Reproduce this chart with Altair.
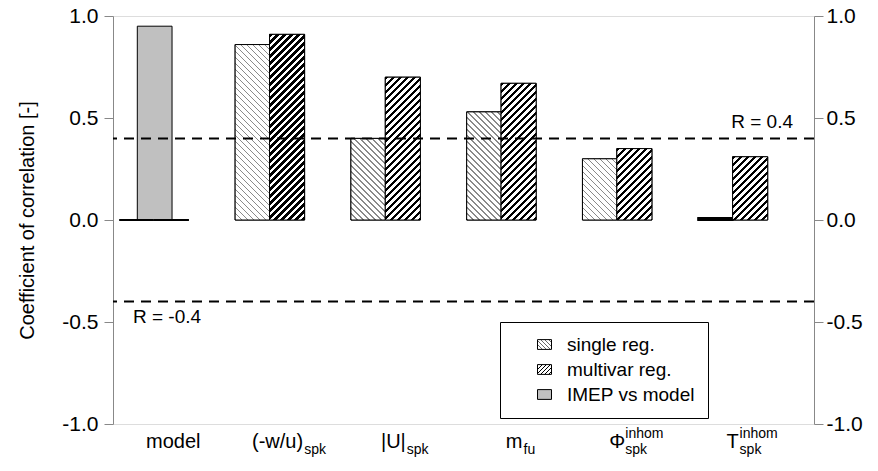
import json
import altair as alt
import pandas as pd

# ---------------- data ----------------
label_main = ["model", "(-w/u)", "|U|", "m", "Φ", "T"]
label_sub = ["", "spk", "spk", "fu", "spk", "spk"]
label_sup = ["", "", "", "", "inhom", "inhom"]
single_reg = [0.0, 0.86, 0.40, 0.53, 0.30, 0.01]
multivar_reg = [0.0, 0.91, 0.70, 0.67, 0.35, 0.31]
imep_vs_model = [0.95, None, None, None, None, None]
series_names = ["single reg.", "multivar reg.", "IMEP vs model"]
y_ticks = [-1.0, -0.5, 0.0, 0.5, 1.0]
r_levels = [0.4, -0.4]
r_labels = ["R = 0.4", "R = -0.4"]

# ---------------- layout ----------------
FONT = "Liberation Sans"
W, H = 701, 408
X_DOMAIN = [-0.02, 6.035]
UPP = (X_DOMAIN[1] - X_DOMAIN[0]) / W          # data units per pixel
PX_PER_CAT = 1.0 / UPP
PX_PER_Y = H / 2.0
SLOTS = {"single reg.": (0.035, 0.332), "multivar reg.": (0.332, 0.635),
         "IMEP vs model": (0.19, 0.49)}

xscale = alt.Scale(domain=X_DOMAIN, nice=False, zero=False)
yscale = alt.Scale(domain=[-1, 1], nice=False)


def stripes(w, h, period, frac, ink, paper, direction):
    L = w + h
    n2 = w * w + h * h
    if direction == "/":
        x1, y1, x2, y2 = 0, 0, w * L / n2, h * L / n2
    else:
        x1, y1, x2, y2 = 0, 1, w * L / n2, 1 - h * L / n2
    p = period / L
    stops = []
    k = 0
    while k * p < 1:
        s = k * p
        e1 = min(1.0, s + frac * p)
        e2 = min(1.0, s + p)
        stops += [(s, ink), (e1, ink), (e1, paper), (e2, paper)]
        k += 1
    return {"gradient": "linear", "x1": round(x1, 5), "y1": round(y1, 5),
            "x2": round(x2, 5), "y2": round(y2, 5),
            "stops": [{"offset": round(o, 5), "color": c} for o, c in stops]}


STYLE = {"single reg.": dict(period=6, frac=0.25, ink="#8a8a8a", paper="white", direction="\\"),
         "multivar reg.": dict(period=7, frac=0.45, ink="black", paper="white", direction="/")}

# ---------------- bar table ----------------
rows = []
for i in range(len(label_main)):
    for name, vals in zip(series_names, [single_reg, multivar_reg, imep_vs_model]):
        v = vals[i]
        if v is None:
            continue
        a, b = SLOTS[name]
        rows.append({"series": name, "x0": i + a, "x1": i + b, "value": v, "base": 0.0})
df = pd.DataFrame(rows)

# legend symbol fills
leg_w, leg_h = 14, 9.8
range_exprs = [
    alt.ExprRef(expr=json.dumps(stripes(leg_w, leg_h, 4, 0.25, "#6a6a6a", "white", "\\"))),
    alt.ExprRef(expr=json.dumps(stripes(leg_w, leg_h, 4, 0.45, "black", "white", "/"))),
    alt.ExprRef(expr="'#c0c0c0'"),
]

LABEL_EXPR = "datum.value < 0 ? '-' + format(-datum.value, '.1f') : format(datum.value, '.1f')"
left_axis = alt.Axis(values=y_ticks, labelExpr=LABEL_EXPR, orient="left", tickSize=9, labelPadding=6,
                     labelFontSize=21, titleFontSize=20, titleFontWeight="normal",
                     titlePadding=24, grid=False, title="Coefficient of correlation [-]")
right_axis = alt.Axis(values=y_ticks, labelExpr=LABEL_EXPR, orient="right", tickSize=9, labelPadding=3,
                      labelFontSize=21, grid=False, title=None)
x_axis = alt.Axis(values=list(range(0, 7)), labels=False, tickSize=10, grid=False, title=None)

base = alt.Chart(df).mark_bar(stroke="black", strokeWidth=1).encode(
    x=alt.X("x0:Q", scale=xscale, axis=x_axis),
    x2="x1:Q",
    y=alt.Y("value:Q", scale=yscale, axis=left_axis),
    y2="base:Q",
    color=alt.Color("series:N", scale=alt.Scale(domain=series_names, range=range_exprs),
                    legend=alt.Legend(title=None, orient="none", legendX=387, legendY=306,
                                      strokeColor="black", fillColor="white", padding=13,
                                      labelFontSize=19, labelFont=FONT, labelColor="black",
                                      symbolType="M-1,-0.7H1V0.7H-1Z", symbolSize=196,
                                      symbolStrokeColor="black", symbolStrokeWidth=1,
                                      labelOffset=13, symbolOffset=22, rowPadding=5)),
)

layers = [base]
for r in rows:
    if r["series"] == "IMEP vs model":
        continue
    w = (r["x1"] - r["x0"]) * PX_PER_CAT
    h = abs(r["value"]) * PX_PER_Y
    one = pd.DataFrame([r])
    enc = dict(x=alt.X("x0:Q", scale=xscale, axis=None), x2="x1:Q",
               y=alt.Y("value:Q", scale=yscale, axis=None), y2="base:Q")
    if h < 3:
        layers.append(alt.Chart(one).mark_bar(fill="white", stroke="black", strokeWidth=2).encode(**enc))
    else:
        g = stripes(w, h, **STYLE[r["series"]])
        layers.append(alt.Chart(one).mark_bar(fill=g, stroke="black", strokeWidth=1).encode(**enc))

# dashed reference lines + right axis
rdf = pd.DataFrame({"level": r_levels, "label": r_labels})
rules = alt.Chart(rdf).mark_rule(color="black", strokeWidth=2, strokeDash=[10, 7]).encode(
    y=alt.Y("level:Q", scale=yscale, axis=right_axis))
layers.append(rules)
layers.append(alt.Chart(rdf.iloc[[0]]).mark_text(align="right", baseline="alphabetic", dy=-10,
                                                 fontSize=19, font=FONT, color="black").encode(
    x=alt.value(680), y=alt.Y("level:Q", scale=yscale, axis=None), text="label:N"))
layers.append(alt.Chart(rdf.iloc[[1]]).mark_text(align="left", baseline="alphabetic", dy=21,
                                                 fontSize=19, font=FONT, color="black").encode(
    x=alt.value(20), y=alt.Y("level:Q", scale=yscale, axis=None), text="label:N"))

# category labels with sub/superscripts
CW = {'(': 0.333, ')': 0.333, '-': 0.333, 'w': 0.722, '/': 0.278, 'u': 0.556, 'm': 0.833,
      'o': 0.556, 'd': 0.556, 'e': 0.556, 'l': 0.222, '|': 0.26, 'U': 0.722, 'f': 0.278,
      'Φ': 0.76, 'T': 0.611, 's': 0.5, 'p': 0.556, 'k': 0.5, 'i': 0.222, 'n': 0.556, 'h': 0.556}
MAIN_FS, SCRIPT_FS = 20, 14


def tw(s, fs):
    return sum(CW.get(c, 0.55) for c in s) * fs


lab_rows = []
for i, (m, sb, sp) in enumerate(zip(label_main, label_sub, label_sup)):
    mw = tw(m, MAIN_FS)
    sw = max(tw(sb, SCRIPT_FS), tw(sp, SCRIPT_FS))
    total = mw + (sw + 1 if sw > 0 else 0)
    start = -total / 2
    lab_rows.append({"xm": i + 0.5 + start * UPP, "xs": i + 0.5 + (start + mw + 1) * UPP,
                     "main": m, "sub": sb, "sup": sp, "ybase": -1.0})
ldf = pd.DataFrame(lab_rows)
for field, xf, fs, dy in [("main", "xm", MAIN_FS, 24), ("sub", "xs", SCRIPT_FS, 30),
                          ("sup", "xs", SCRIPT_FS, 14)]:
    layers.append(alt.Chart(ldf).mark_text(align="left", baseline="alphabetic", dy=dy,
                                           fontSize=fs, font=FONT, color="black").encode(
        x=alt.X(f"{xf}:Q", scale=xscale, axis=None),
        y=alt.Y("ybase:Q", scale=yscale, axis=None),
        text=f"{field}:N"))

chart = alt.layer(*layers).resolve_axis(y="independent").properties(
    width=W, height=H,
    autosize=alt.AutoSizeParams(type="none"),
    padding={"left": 105, "top": 8, "right": 56, "bottom": 38},
).configure_view(stroke=None).configure_axis(
    domainColor="black", tickColor="black", labelColor="black", titleColor="black",
    labelFont=FONT, titleFont=FONT, domainWidth=1, tickWidth=1,
).configure(background="white")

chart.save("out.html", embed_options={"renderer": "svg", "actions": False})
